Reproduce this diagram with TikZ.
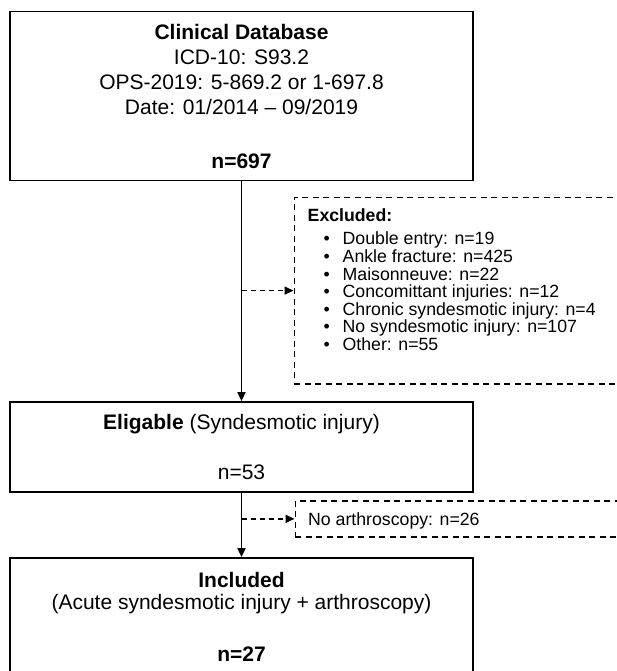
\documentclass[tikz,border=0pt]{standalone}
\usepackage{fontspec}
\setmainfont{Liberation Sans}
\usetikzlibrary{arrows.meta,positioning}

\newcommand{\exclbullet}{\hspace*{16pt}\makebox[19pt][l]{•}}

\tikzset{
  flowbox/.style={draw,line width=1.8pt,minimum width=463pt,inner sep=0pt,align=center,font=\fontsize{21}{25}\selectfont},
  exclbox/.style={draw,line width=1.7pt,dash pattern=on 6pt off 4.5pt,anchor=north west,minimum width=360pt,inner sep=0pt},
  excltext/.style={inner sep=0pt,align=left,font=\fontsize{17.7}{17.6}\selectfont},
  exclarrow/.style={line width=1.7pt,dash pattern=on 5pt off 4pt,->}
}

\begin{document}
\begin{tikzpicture}[x=1pt,y=-1pt,>={Triangle[length=9pt,width=8pt]}]
\useasboundingbox (0,0) rectangle (617,671);
\clip (0,0) rectangle (617,671);
% main flow
\node[flowbox,minimum height=169pt] (db) at (241.5,96) {\textbf{Clinical Database}\\ICD-10: S93.2\\OPS-2019: 5-869.2 or 1-697.8\\Date: 01/2014 -- 09/2019\\[29pt]\textbf{n=697}};
\node[flowbox,minimum height=90pt] (elig) at (241.5,447) {\textbf{Eligable} (Syndesmotic injury)\\[25pt]n=53};
\node[flowbox,minimum height=118pt] (incl) at (241.5,617) {\textbf{Included}\\[-3pt](Acute syndesmotic injury + arthroscopy)\\[27pt]\textbf{n=27}};
\draw[line width=1.8pt,->] (db) -- (elig);
\draw[line width=1.8pt,->] (elig) -- (incl);
% exclusions
\node[exclbox,minimum height=186.5pt] (excl) at (293.5,196.5) {};
\node[excltext,anchor=north west] (excllist) at (307.5,208.5) {\textbf{Excluded:}\\[5.7pt]
\exclbullet Double entry: n=19\\
\exclbullet Ankle fracture: n=425\\
\exclbullet Maisonneuve: n=22\\
\exclbullet Concomittant injuries: n=12\\
\exclbullet Chronic syndesmotic injury: n=4\\
\exclbullet No syndesmotic injury: n=107\\
\exclbullet Other: n=55};
\node[exclbox,minimum height=36pt] (noarth) at (294.5,500) {};
\node[excltext,anchor=base west] (noarthtext) at (308,525.8) {No arthroscopy: n=26};
\draw[exclarrow] (db.south |- excl.west) -- (excl.west);
\draw[exclarrow] (elig.south |- noarth.west) -- (noarth.west);
\end{tikzpicture}
\end{document}
